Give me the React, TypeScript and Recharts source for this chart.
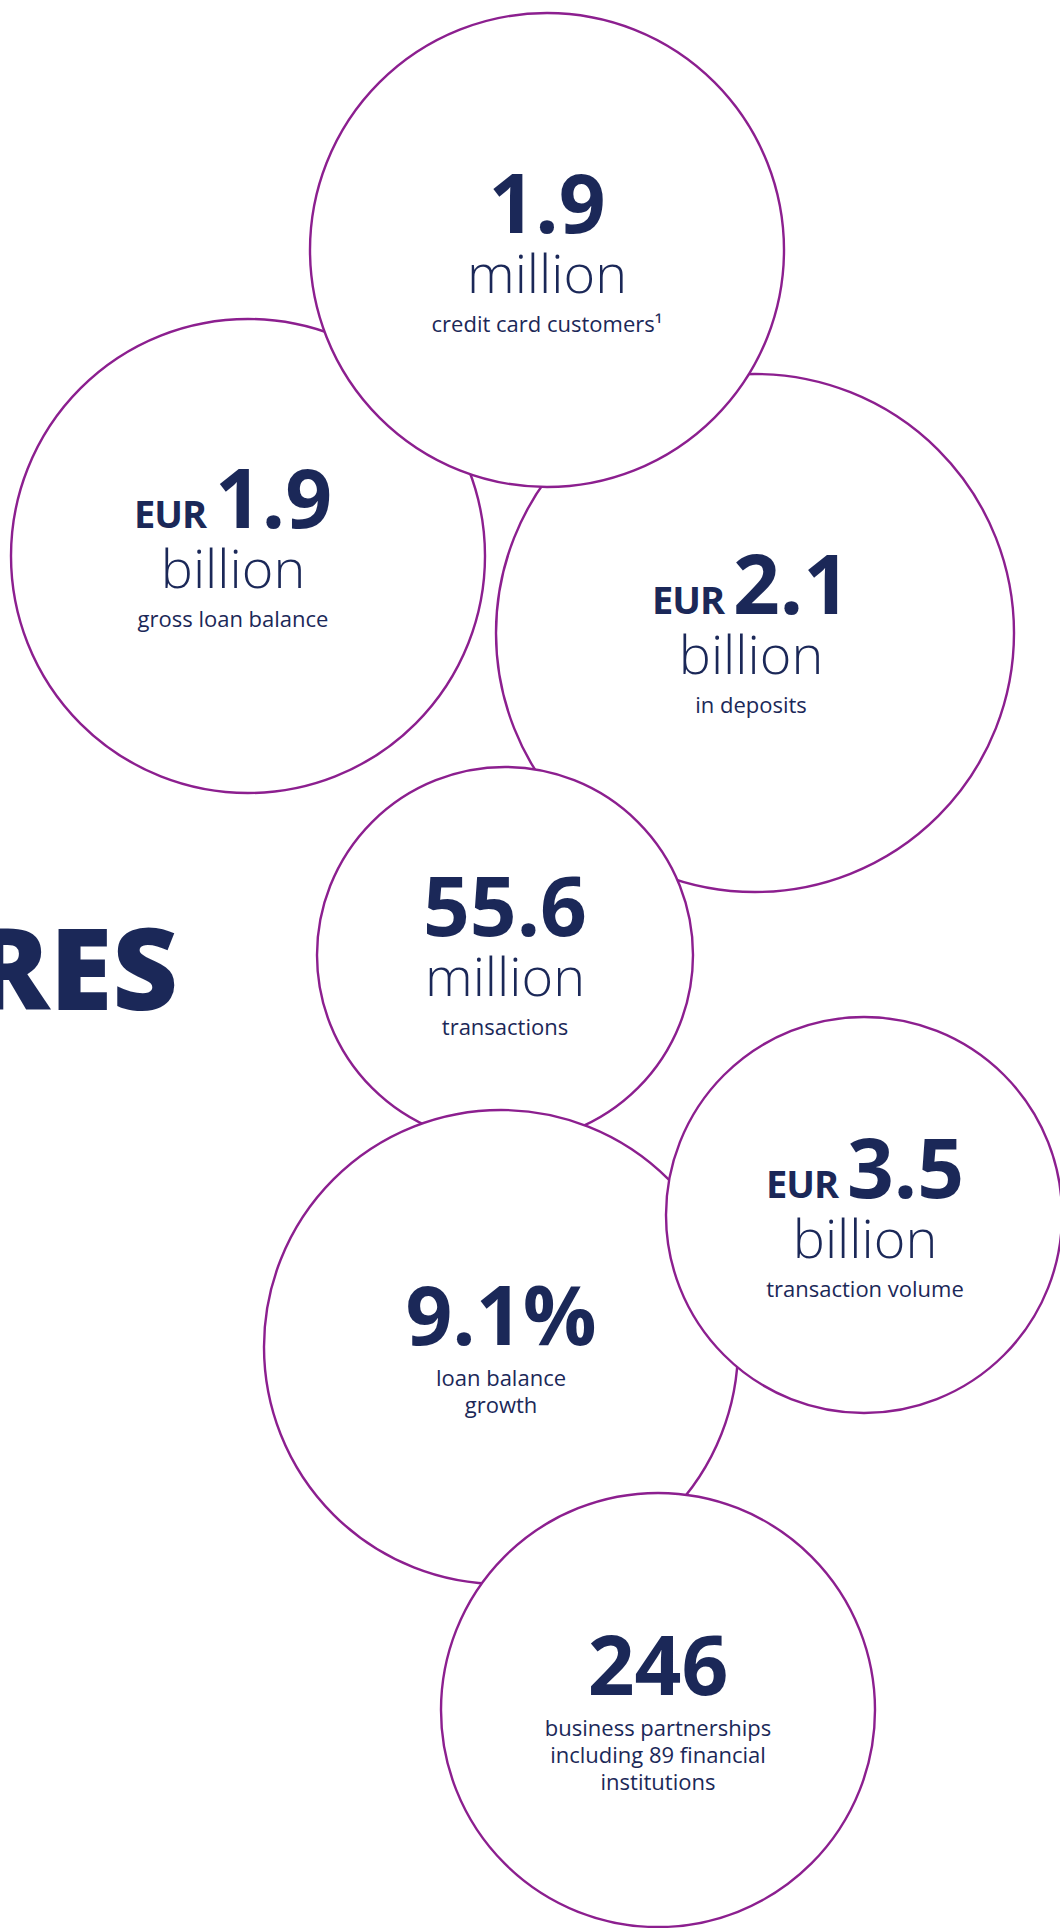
import React from "react"
import { ScatterChart, Scatter, XAxis, YAxis } from "recharts"

// bubbles listed in paint order (later ones sit on top)
const bubbleX = [248, 755, 547, 505, 501, 864, 658]
const bubbleY = [556, 633, 250, 955, 1347, 1215, 1710]
const bubbleR = [237, 259, 237, 188, 237, 198, 217]

const figures = ["1.9", "2.1", "1.9", "55.6", "9.1%", "3.5", "246"]
const prefixes = ["EUR", "EUR", "", "", "", "EUR", ""]
const units = ["billion", "billion", "million", "million", "", "billion", ""]
const captions = [
  ["gross loan balance"],
  ["in deposits"],
  ["credit card customers¹"],
  ["transactions"],
  ["loan balance", "growth"],
  ["transaction volume"],
  ["business partnerships", "including 89 financial", "institutions"],
]

// label placement relative to bubble centre
const labelDx = [-15, -4, 0, 0, 0, 1, 0]
const labelDy = [-28, -19, -17, -19, -2, -17, -15]

const NAVY = "#1b2858"
const PURPLE = "#8c1f8f"
const FONT = "'Open Sans', sans-serif"

const W = 1060
const H = 1928

const data = bubbleX.map((x, i) => ({
  x,
  y: bubbleY[i],
  r: bubbleR[i],
  figure: figures[i],
  prefix: prefixes[i],
  unit: units[i],
  caption: captions[i],
  dx: labelDx[i],
  dy: labelDy[i],
}))

function Bubble(props: any) {
  const { cx, cy, payload } = props
  const tx = cx + payload.dx
  const vy = cy + payload.dy
  const capStart = payload.unit ? vy + 99 : vy + 41
  return (
    <g>
      <circle cx={cx} cy={cy} r={payload.r} fill="#fff" stroke={PURPLE} strokeWidth={2.4} />
      <text x={tx} y={vy} textAnchor="middle" fill={NAVY} fontFamily={FONT} fontWeight={700}>
        {payload.prefix ? (
          <tspan fontSize={38} letterSpacing={-1}>
            {payload.prefix}
          </tspan>
        ) : null}
        <tspan fontSize={82} dx={payload.prefix ? 9 : 0}>
          {payload.figure}
        </tspan>
      </text>
      {payload.unit ? (
        <text x={tx} y={vy + 60} textAnchor="middle" fill={NAVY} fontFamily={FONT} fontWeight={300} fontSize={54}>
          {payload.unit}
        </text>
      ) : null}
      {payload.caption.map((line: string, i: number) => (
        <text
          key={i}
          x={tx}
          y={capStart + i * 27}
          textAnchor="middle"
          fill={NAVY}
          fontFamily={FONT}
          fontWeight={400}
          fontSize={22}
        >
          {line}
        </text>
      ))}
    </g>
  )
}

export default function App() {
  return (
    <div style={{ position: "absolute", left: 0, top: 0, width: W, height: H, background: "#fff", overflow: "hidden" }}>
      <svg width={W} height={H} style={{ position: "absolute", left: 0, top: 0 }}>
        <text x={178} y={1010} textAnchor="end" fill={NAVY} fontFamily={FONT} fontWeight={800} fontSize={114}>
          RES
        </text>
      </svg>
      <div style={{ position: "absolute", left: 0, top: 0 }}>
        <ScatterChart width={W} height={H} margin={{ top: 0, right: 0, bottom: 0, left: 0 }}>
          <XAxis type="number" dataKey="x" domain={[0, W]} hide allowDataOverflow />
          <YAxis type="number" dataKey="y" domain={[0, H]} reversed hide allowDataOverflow />
          <Scatter data={data} shape={Bubble} isAnimationActive={false} />
        </ScatterChart>
      </div>
    </div>
  )
}
